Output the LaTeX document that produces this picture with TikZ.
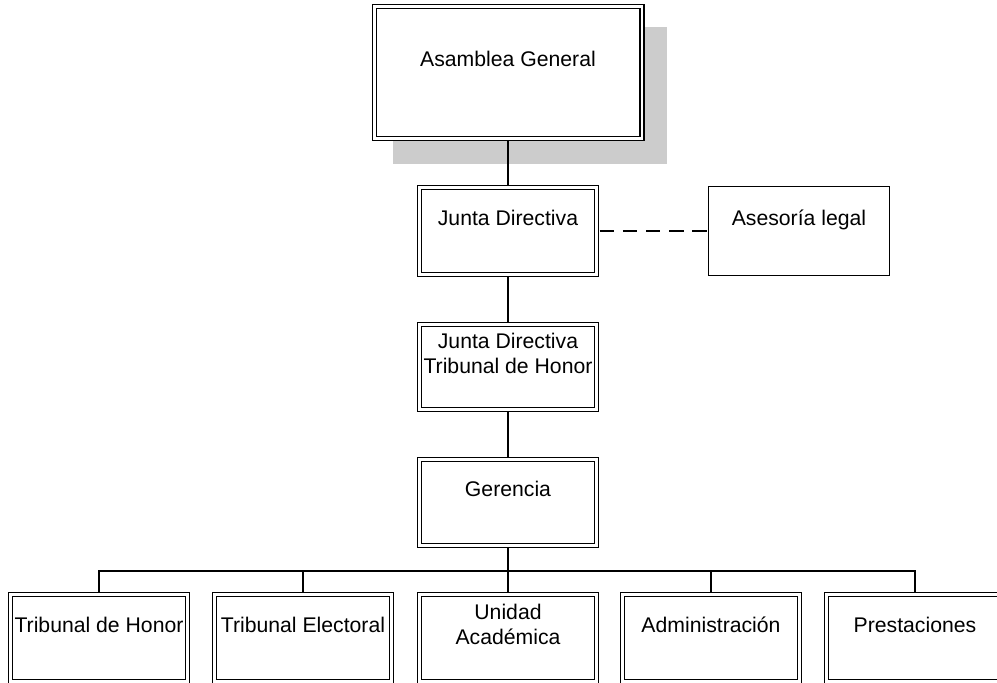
\documentclass[tikz,border=0pt]{standalone}
\usepackage{fontspec}
\setmainfont{Liberation Sans}
\usetikzlibrary{backgrounds}
\newcommand{\lift}[1]{\raisebox{5.5pt}[0pt][0pt]{\begin{tabular}{@{}c@{}}#1\end{tabular}}}
\colorlet{shadowgray}{gray!40}
\begin{document}
\begin{tikzpicture}[x=1pt,y=-1pt,
  dbox/.style={draw, line width=1.2pt, double=white, double distance=2.8pt, fill=white,
    inner sep=0pt, minimum width=176.8pt, minimum height=86.8pt,
    font=\fontsize{21.2}{25}\selectfont},
  sbox/.style={draw, line width=1.2pt, fill=white, inner sep=0pt,
    minimum width=180.8pt, minimum height=88.8pt,
    font=\fontsize{21.2}{25}\selectfont},
  link/.style={line width=1.2pt},
  dashlink/.style={line width=1.2pt, dash pattern=on 14.4pt off 8.8pt, dash phase=20.6pt}]
\useasboundingbox (0,0) rectangle (997,683);
\clip (0,0) rectangle (997,683);
\node[dbox, minimum width=267.8pt, minimum height=131.8pt] (ag) at (508,72.5) {\lift{Asamblea General}};
\node[dbox] (jd) at (508,231) {\lift{Junta Directiva}};
\node[sbox] (al) at (799,231) {\lift{Asesoría legal}};
\node[dbox, minimum height=84.8pt] (jt) at (508,367) {\lift{Junta Directiva\\Tribunal de Honor}};
\node[dbox, minimum height=86.3pt] (ge) at (508,502.5) {\lift{Gerencia}};
\node[dbox] (b1) at (99,638) {\lift{Tribunal de Honor}};
\node[dbox] (b2) at (303,638) {\lift{Tribunal Electoral}};
\node[dbox] (b3) at (508,638) {\lift{Unidad\\Académica}};
\node[dbox] (b4) at (711,638) {\lift{Administración}};
\node[dbox] (b5) at (915,638) {\lift{Prestaciones}};
\coordinate (bus) at (508,571);
\begin{pgfonlayer}{background}
\fill[shadowgray] (393,27) rectangle (667,164);
\draw[link] (ag.south) -- (jd.north);
\draw[link] (jd.south) -- (jt.north);
\draw[link] (jt.south) -- (ge.north);
\draw[dashlink] (jd.east) -- (al.west);
\draw[link] (ge.south) -- (b3.north);
\draw[link] (b1.north) -- (b1.north |- bus) -- (b5.north |- bus) -- (b5.north);
\draw[link] (b2.north) -- (b2.north |- bus);
\draw[link] (b4.north) -- (b4.north |- bus);
\end{pgfonlayer}
\end{tikzpicture}
\end{document}
